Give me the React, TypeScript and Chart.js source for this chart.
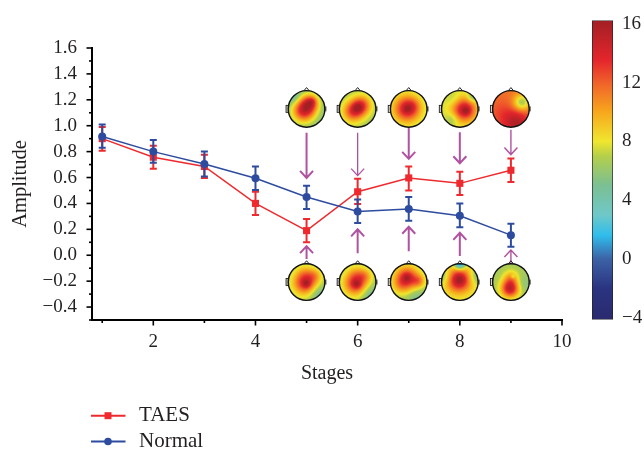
import React, { useEffect, useRef } from "react";
import { Chart, registerables } from "chart.js";

Chart.register(...registerables);

const FONT = "'Liberation Serif', serif";
const INK = "#231f20";
const RED = "#ee2a2e";
const BLUE = "#2e4c9f";
const ARROW = "#b0529f";

const stages = [1, 2, 3, 4, 5, 6, 7, 8, 9];
const taes = [0.9, 0.757, 0.685, 0.4, 0.19, 0.49, 0.597, 0.555, 0.656];
const taesUpper = [0.99, 0.845, 0.775, 0.49, 0.28, 0.59, 0.685, 0.645, 0.746];
const taesLower = [0.806, 0.667, 0.597, 0.31, 0.1, 0.395, 0.5, 0.465, 0.565];
const normal = [0.917, 0.8, 0.705, 0.594, 0.45, 0.338, 0.357, 0.305, 0.155];
const normalUpper = [1.01, 0.89, 0.8, 0.685, 0.537, 0.43, 0.45, 0.4, 0.243];
const normalLower = [0.83, 0.715, 0.607, 0.504, 0.357, 0.248, 0.266, 0.217, 0.065];

const mapStages = [5, 6, 7, 8, 9];
const topMapY = 1.13;
const bottomMapY = -0.207;
const topArrowTail = [0.946, 0.946, 0.984, 0.95, 0.969];
const topArrowTip = [0.597, 0.615, 0.744, 0.71, 0.777];
const bottomArrowTail = [-0.03, 0.015, 0.03, -0.005, -0.078];
const bottomArrowTip = [0.07, 0.2, 0.22, 0.173, 0.04];

const colorbarTicks = [-4, 0, 4, 8, 12, 16];
const colorStops: [number, string][] = [
  [-4.13, "#2a2a6e"],
  [-2, "#2a3480"],
  [0, "#3c62a6"],
  [1.6, "#2fbdec"],
  [3, "#6fc8c8"],
  [5, "#7bbf94"],
  [7, "#b5cf4a"],
  [8, "#f0e62e"],
  [10, "#f7a71d"],
  [12, "#f0612a"],
  [13.5, "#e4262c"],
  [16.23, "#a21f24"],
];

// Each head: base level plus [u, v, sigma, amplitude] gaussian patches (u,v in head radii).
type Blob = [number, number, number, number];
const topHeads: { base: number; blobs: Blob[] }[] = [
  { base: 5.5, blobs: [[-0.15, 0.1, 0.44, 8.5], [0.2, -0.35, 0.34, 6], [0.3, -0.42, 0.14, 1.5], [-0.8, -0.7, 0.3, -2]] },
  { base: 6.5, blobs: [[-0.25, 0.15, 0.4, 6], [0.2, -0.2, 0.37, 6], [0, -0.05, 0.15, 2]] },
  { base: 7, blobs: [[-0.1, 0, 0.5, 7.5], [0.2, -0.15, 0.28, 1.5], [-0.1, 0, 0.14, 1.5]] },
  { base: 7.5, blobs: [[0.25, 0.05, 0.44, 7.5], [0.35, 0.1, 0.14, 2], [-0.4, 0.55, 0.24, -1.5], [0.7, -0.65, 0.2, -2.5], [-0.35, -0.55, 0.25, -0.8]] },
  { base: 11.5, blobs: [[0.6, -0.35, 0.32, -5], [0.3, 0.8, 0.5, 4], [-0.5, 0.2, 0.5, 1]] },
];
const bottomHeads: { base: number; blobs: Blob[] }[] = [
  { base: 6.5, blobs: [[-0.1, 0.05, 0.45, 7], [0, 0.08, 0.16, 2.5], [0.45, -0.35, 0.28, 2.5], [-0.1, -0.5, 0.33, 1.5], [0.7, 0.7, 0.35, -2]] },
  { base: 6.5, blobs: [[-0.12, 0.08, 0.45, 7], [-0.05, 0.1, 0.16, 2.5], [0.4, -0.35, 0.28, 2.5], [-0.1, -0.5, 0.33, 1.5], [0.7, 0.7, 0.35, -2]] },
  { base: 6.5, blobs: [[-0.1, -0.2, 0.47, 7.5], [-0.1, -0.25, 0.16, 2], [0.55, -0.05, 0.24, 3], [-0.5, 0.2, 0.33, 1.5], [0.4, 0.8, 0.35, -1.5]] },
  { base: 7.5, blobs: [[-0.05, -0.1, 0.47, 7.5], [0, -0.15, 0.22, 1.5], [0, -1, 0.2, -8], [0.9, -0.3, 0.3, -2], [-0.9, -0.3, 0.3, -2]] },
  { base: 6.5, blobs: [[-0.05, 0.35, 0.34, 8.5], [0, -0.25, 0.28, 3], [0.1, -0.3, 0.08, -2], [0.7, 0.1, 0.3, -1]] },
];

const hexRgb = (h: string) => [1, 3, 5].map((i) => parseInt(h.slice(i, i + 2), 16));

function valueColor(v: number): number[] {
  if (v <= colorStops[0][0]) return hexRgb(colorStops[0][1]);
  for (let i = 1; i < colorStops.length; i++) {
    if (v <= colorStops[i][0]) {
      const t = (v - colorStops[i - 1][0]) / (colorStops[i][0] - colorStops[i - 1][0]);
      const a = hexRgb(colorStops[i - 1][1]);
      const b = hexRgb(colorStops[i][1]);
      return a.map((c, k) => c + (b[k] - c) * t);
    }
  }
  return hexRgb(colorStops[colorStops.length - 1][1]);
}

function drawHead(ctx: CanvasRenderingContext2D, cx: number, cy: number, head: { base: number; blobs: Blob[] }) {
  const R = 18.3;
  const S = 56;
  const off = document.createElement("canvas");
  off.width = S;
  off.height = S;
  const oc = off.getContext("2d")!;
  const img = oc.createImageData(S, S);
  for (let j = 0; j < S; j++) {
    for (let i = 0; i < S; i++) {
      const u = ((i + 0.5) / S) * 2 - 1;
      const v = ((j + 0.5) / S) * 2 - 1;
      let val = head.base;
      for (const [bu, bv, s, a] of head.blobs) {
        val += a * Math.exp(-((u - bu) ** 2 + (v - bv) ** 2) / (2 * s * s));
      }
      const rgb = valueColor(val);
      const p = (j * S + i) * 4;
      img.data[p] = rgb[0];
      img.data[p + 1] = rgb[1];
      img.data[p + 2] = rgb[2];
      img.data[p + 3] = 255;
    }
  }
  oc.putImageData(img, 0, 0);

  ctx.save();
  // ears
  ctx.lineWidth = 0.9;
  ctx.strokeStyle = "#222";
  ctx.fillStyle = "#d8d8d8";
  ctx.fillRect(cx - R - 2.2, cy - 3.5, 2.2, 7);
  ctx.strokeRect(cx - R - 2.2, cy - 3.5, 2.2, 7);
  ctx.fillStyle = "#666";
  ctx.fillRect(cx + R, cy - 2.5, 1.6, 5);
  // nose
  ctx.beginPath();
  ctx.moveTo(cx - 2.5, cy - R);
  ctx.lineTo(cx, cy - R - 3);
  ctx.lineTo(cx + 2.5, cy - R);
  ctx.lineWidth = 1;
  ctx.stroke();
  // scalp
  ctx.beginPath();
  ctx.arc(cx, cy, R, 0, Math.PI * 2);
  ctx.save();
  ctx.clip();
  ctx.imageSmoothingEnabled = true;
  ctx.drawImage(off, cx - R, cy - R, R * 2, R * 2);
  ctx.restore();
  ctx.lineWidth = 1.4;
  ctx.strokeStyle = "#111";
  ctx.stroke();
  ctx.restore();
}

function drawArrow(ctx: CanvasRenderingContext2D, x: number, tail: number, tip: number, width: number) {
  const dir = tip > tail ? 1 : -1;
  ctx.save();
  ctx.strokeStyle = ARROW;
  ctx.lineWidth = width;
  ctx.beginPath();
  ctx.moveTo(x, tail);
  ctx.lineTo(x, tip);
  ctx.moveTo(x - 6.5, tip - dir * 7);
  ctx.lineTo(x, tip);
  ctx.lineTo(x + 6.5, tip - dir * 7);
  ctx.stroke();
  ctx.restore();
}

const mainPlugin = {
  id: "mainDecor",
  afterDatasetDraw(chart: any, args: any) {
    const { ctx, scales } = chart;
    const sets = [
      { up: taesUpper, lo: taesLower, col: RED },
      { up: normalUpper, lo: normalLower, col: BLUE },
    ];
    const s = sets[args.index];
    ctx.save();
    ctx.strokeStyle = s.col;
    ctx.lineWidth = 2;
    stages.forEach((st, i) => {
      const x = scales.x.getPixelForValue(st);
      const a = scales.y.getPixelForValue(s.up[i]);
      const b = scales.y.getPixelForValue(s.lo[i]);
      ctx.beginPath();
      ctx.moveTo(x, a);
      ctx.lineTo(x, b);
      ctx.moveTo(x - 3.5, a);
      ctx.lineTo(x + 3.5, a);
      ctx.moveTo(x - 3.5, b);
      ctx.lineTo(x + 3.5, b);
      ctx.stroke();
    });
    ctx.restore();
  },
  afterDraw(chart: any) {
    const { ctx, scales, chartArea } = chart;
    // tick marks
    ctx.save();
    ctx.strokeStyle = "#000";
    ctx.lineWidth = 1.6;
    scales.y.ticks.forEach((t: any) => {
      const long = Math.round(t.value * 10) % 2 === 0;
      const y = scales.y.getPixelForValue(t.value);
      ctx.beginPath();
      ctx.moveTo(chartArea.left, y);
      ctx.lineTo(chartArea.left - (long ? 5.5 : 3), y);
      ctx.stroke();
    });
    scales.x.ticks.forEach((t: any) => {
      const long = t.value % 2 === 0;
      const x = scales.x.getPixelForValue(t.value);
      ctx.beginPath();
      ctx.moveTo(x, chartArea.bottom);
      ctx.lineTo(x, chartArea.bottom + (long ? 5.5 : 3));
      ctx.stroke();
    });
    ctx.restore();

    // arrows
    const widths = [2, 1.3, 2, 2, 1.4];
    mapStages.forEach((st, i) => {
      const x = scales.x.getPixelForValue(st);
      drawArrow(ctx, x, scales.y.getPixelForValue(topArrowTail[i]), scales.y.getPixelForValue(topArrowTip[i]), widths[i]);
      drawArrow(ctx, x, scales.y.getPixelForValue(bottomArrowTail[i]), scales.y.getPixelForValue(bottomArrowTip[i]), i === 4 ? 1.4 : 2);
    });

    // head maps
    mapStages.forEach((st, i) => {
      const x = scales.x.getPixelForValue(st);
      drawHead(ctx, x, scales.y.getPixelForValue(topMapY), topHeads[i]);
      drawHead(ctx, x, scales.y.getPixelForValue(bottomMapY), bottomHeads[i]);
    });

    // legend
    chart.data.datasets.forEach((d: any, i: number) => {
      const y = i === 0 ? 415.7 : 441.5;
      ctx.save();
      ctx.strokeStyle = d.borderColor;
      ctx.fillStyle = d.borderColor;
      ctx.lineWidth = 2;
      ctx.beginPath();
      ctx.moveTo(91, y);
      ctx.lineTo(125.5, y);
      ctx.stroke();
      if (i === 0) {
        ctx.fillRect(104.5, y - 3.5, 7, 7);
      } else {
        ctx.beginPath();
        ctx.arc(108, y, 3.8, 0, Math.PI * 2);
        ctx.fill();
      }
      ctx.fillStyle = INK;
      ctx.font = `21px ${FONT}`;
      ctx.textBaseline = "middle";
      ctx.textAlign = "left";
      ctx.fillText(d.label, 139, y);
      ctx.restore();
    });
  },
};

export default function App() {
  const mainRef = useRef<HTMLCanvasElement>(null);
  const barRef = useRef<HTMLCanvasElement>(null);

  useEffect(() => {
    const main = new Chart(mainRef.current!, {
      type: "line",
      data: {
        datasets: [
          {
            label: "TAES",
            data: stages.map((s, i) => ({ x: s, y: taes[i] })),
            borderColor: RED,
            backgroundColor: RED,
            borderWidth: 1.5,
            tension: 0,
            pointStyle: "rect",
            pointRadius: 5,
            pointBorderWidth: 0,
            order: 2,
          },
          {
            label: "Normal",
            data: stages.map((s, i) => ({ x: s, y: normal[i] })),
            borderColor: BLUE,
            backgroundColor: BLUE,
            borderWidth: 1.5,
            tension: 0,
            pointStyle: "circle",
            pointRadius: 4,
            pointBorderWidth: 0,
            order: 1,
          },
        ],
      },
      options: {
        animation: false,
        responsive: false,
        layout: { autoPadding: false, padding: { left: 0, right: 82, top: 48, bottom: 64 } },
        plugins: { legend: { display: false }, tooltip: { enabled: false } },
        scales: {
          x: {
            type: "linear",
            min: 0.8,
            max: 10,
            afterFit: (s: any) => { s.height = 66; },
            afterBuildTicks: (s: any) => { s.ticks = [1, 2, 3, 4, 5, 6, 7, 8, 9, 10].map((value) => ({ value })); },
            grid: { display: true, drawOnChartArea: false, drawTicks: false },
            border: { display: true, color: "#000", width: 2 },
            ticks: {
              autoSkip: false,
              maxRotation: 0,
              padding: 11,
              color: INK,
              font: { family: FONT, size: 19 },
              callback: (v: any) => (v % 2 === 0 ? String(v) : ""),
            },
            title: { display: true, text: "Stages", color: INK, font: { family: FONT, size: 20 }, padding: { top: 0, bottom: 0 } },
          },
          y: {
            type: "linear",
            min: -0.5,
            max: 1.6,
            afterFit: (s: any) => { s.width = 92; },
            afterBuildTicks: (s: any) => {
              const t = [];
              for (let k = -5; k <= 16; k++) t.push({ value: k / 10 });
              s.ticks = t;
            },
            grid: { display: true, drawOnChartArea: false, drawTicks: false },
            border: { display: true, color: "#000", width: 2 },
            ticks: {
              autoSkip: false,
              padding: 15,
              color: INK,
              font: { family: FONT, size: 19 },
              callback: (v: any) => {
                const k = Math.round(v * 10);
                if (k % 2 !== 0) return "";
                return (k < 0 ? "\u2212" : "") + Math.abs(v).toFixed(1);
              },
            },
            title: { display: true, text: "Amplitude", color: INK, font: { family: FONT, size: 20.5 }, padding: { top: 8, bottom: 0 } },
          },
        },
      },
      plugins: [mainPlugin],
    } as any);

    const low = colorStops[0][0];
    const high = colorStops[colorStops.length - 1][0];
    const bar = new Chart(barRef.current!, {
      type: "bar",
      data: {
        labels: ["scale"],
        datasets: [
          {
            data: [[low, high]],
            barPercentage: 1,
            categoryPercentage: 1,
            borderColor: "#222",
            borderWidth: 1,
            borderSkipped: false,
            backgroundColor: (c: any) => {
              const area = c.chart.chartArea;
              if (!area) return "#888";
              const g = c.chart.ctx.createLinearGradient(0, area.bottom, 0, area.top);
              colorStops.forEach(([v, col]) => g.addColorStop((v - low) / (high - low), col));
              return g;
            },
          },
        ],
      },
      options: {
        animation: false,
        responsive: false,
        layout: { autoPadding: false, padding: { left: 12, right: 0, top: 16, bottom: 18 } },
        plugins: { legend: { display: false }, tooltip: { enabled: false } },
        scales: {
          x: { display: false },
          y: {
            position: "right",
            min: low,
            max: high,
            afterFit: (s: any) => { s.width = 31; },
            afterBuildTicks: (s: any) => { s.ticks = colorbarTicks.map((value) => ({ value })); },
            grid: { display: false, drawTicks: false },
            border: { display: false },
            ticks: {
              padding: 9,
              color: INK,
              font: { family: FONT, size: 19 },
              callback: (v: any) => (v < 0 ? "\u2212" : "") + Math.abs(v),
            },
          },
        },
      },
    } as any);

    return () => {
      main.destroy();
      bar.destroy();
    };
  }, []);

  return (
    <div style={{ position: "absolute", left: 0, top: 0, width: 644, height: 450, background: "#fff" }}>
      <canvas ref={mainRef} width={644} height={450} style={{ position: "absolute", left: 0, top: 0, width: 644, height: 450 }} />
      <canvas ref={barRef} width={64} height={340} style={{ position: "absolute", left: 580, top: 0, width: 64, height: 340 }} />
    </div>
  );
}
